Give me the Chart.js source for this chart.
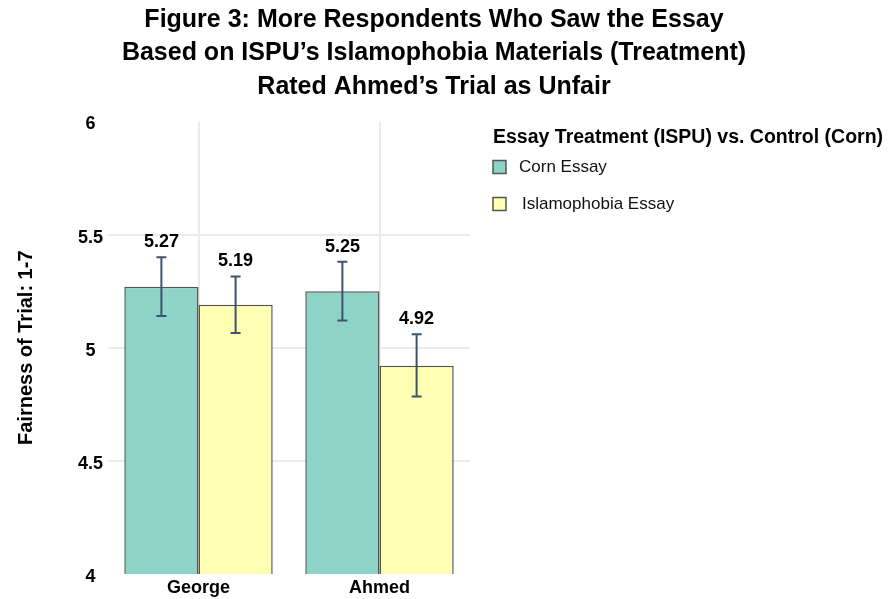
<!DOCTYPE html>
<html>
<head>
<meta charset="utf-8">
<script src="https://cdn.jsdelivr.net/npm/chart.js@4.4.1/dist/chart.umd.min.js"></script>
<style>
  html, body { margin: 0; padding: 0; background: #fff; }
  #wrap { width: 888px; height: 599px; }
</style>
</head>
<body>
<div id="wrap"><canvas id="myChart" width="888" height="599"></canvas></div>
<script>
// values
const categories = ['George', 'Ahmed'];
const seriesNames = ['Corn Essay', 'Islamophobia Essay'];
const cornMeans = [5.27, 5.25];
const islamMeans = [5.19, 4.92];
const cornLow = [5.14, 5.12];
const cornHigh = [5.40, 5.38];
const islamLow = [5.065, 4.785];
const islamHigh = [5.315, 5.06];
const yTicks = [4, 4.5, 5, 5.5, 6];
const titleLines = [
  'Figure 3: More Respondents Who Saw the Essay',
  'Based on ISPU\u2019s Islamophobia Materials (Treatment)',
  'Rated Ahmed\u2019s Trial as Unfair'
];
const legendTitle = 'Essay Treatment (ISPU) vs. Control (Corn)';
const yTitle = 'Fairness of Trial: 1-7';

const fillColors = ['#8dd3c7', '#ffffb3'];
const FONT = "'Liberation Sans', Arial, sans-serif";

const lows = [cornLow, islamLow];
const highs = [cornHigh, islamHigh];

// error bars, value labels and the legend
const extras = {
  id: 'extras',
  afterDatasetsDraw(chart) {
    const ctx = chart.ctx;
    const y = chart.scales.y;
    ctx.save();
    chart.data.datasets.forEach((ds, i) => {
      const meta = chart.getDatasetMeta(i);
      meta.data.forEach((bar, j) => {
        const top = y.getPixelForValue(highs[i][j]);
        const bot = y.getPixelForValue(lows[i][j]);
        ctx.strokeStyle = '#3d5170';
        ctx.lineWidth = 2;
        ctx.beginPath();
        ctx.moveTo(bar.x, top); ctx.lineTo(bar.x, bot);
        ctx.moveTo(bar.x - 5, top); ctx.lineTo(bar.x + 5, top);
        ctx.moveTo(bar.x - 5, bot); ctx.lineTo(bar.x + 5, bot);
        ctx.stroke();

        ctx.fillStyle = '#000';
        ctx.font = 'bold 18px ' + FONT;
        ctx.textAlign = 'center';
        ctx.textBaseline = 'middle';
        ctx.fillText(ds.data[j].toFixed(2), bar.x, top - 15);
      });
    });

    // legend
    const lx = chart.chartArea.right + 23;
    ctx.fillStyle = '#000';
    ctx.textAlign = 'left';
    ctx.textBaseline = 'middle';
    ctx.font = 'bold 19.5px ' + FONT;
    ctx.fillText(legendTitle, lx, 138);
    ctx.font = '17px ' + FONT;
    seriesNames.forEach((name, i) => {
      const cy = 167 + i * 37;
      ctx.fillStyle = fillColors[i];
      ctx.fillRect(lx, cy - 6.5, 13, 13);
      ctx.strokeStyle = '#555';
      ctx.lineWidth = 1.5;
      ctx.strokeRect(lx, cy - 6.5, 13, 13);
      ctx.fillStyle = '#111';
      ctx.fillText(name, lx + 26 + i * 3, cy);
    });
    ctx.restore();
  }
};

const data = {
  labels: categories,
  datasets: [
    {
      label: seriesNames[0],
      data: cornMeans,
      backgroundColor: fillColors[0],
      borderColor: '#555',
      borderWidth: 1.5,
      borderSkipped: false
    },
    {
      label: seriesNames[1],
      data: islamMeans,
      backgroundColor: fillColors[1],
      borderColor: '#555',
      borderWidth: 1.5,
      borderSkipped: false
    }
  ]
};

const gridColor = c => (c.tick && (c.tick.value === 6 || c.tick.value === 4)) ? 'rgba(0,0,0,0)' : '#ebebeb';

new Chart(document.getElementById('myChart'), {
  type: 'bar',
  data: data,
  options: {
    responsive: false,
    animation: false,
    events: [],
    layout: { padding: { top: 0, right: 20, bottom: 0, left: 0 } },
    datasets: { bar: { categoryPercentage: 0.82, barPercentage: 1.0 } },
    plugins: {
      legend: { display: false },
      tooltip: { enabled: false },
      title: {
        display: true,
        text: titleLines,
        color: '#000',
        font: { family: FONT, size: 25, weight: 'bold', lineHeight: 1.34 },
        padding: { top: 3, bottom: 18 }
      }
    },
    scales: {
      x: {
        offset: true,
        afterFit: s => { s.height = 25; },
        grid: { offset: false, color: '#ebebeb', lineWidth: 2, drawTicks: false },
        border: { display: false },
        ticks: { color: '#000', padding: 3, font: { family: FONT, size: 18, weight: 'bold' } }
      },
      y: {
        min: yTicks[0],
        max: yTicks[yTicks.length - 1],
        afterBuildTicks: s => { s.ticks = yTicks.map(v => ({ value: v })); },
        afterFit: s => { s.width = 108; },
        grid: { color: gridColor, lineWidth: 2, drawTicks: false },
        border: { display: false },
        ticks: {
          color: '#000',
          crossAlign: 'center',
          padding: 5,
          labelOffset: 3,
          callback: v => String(v),
          font: { family: FONT, size: 18, weight: 'bold' }
        },
        title: {
          display: true,
          text: yTitle,
          color: '#000',
          padding: { top: 14, bottom: 0 },
          font: { family: FONT, size: 20, weight: 'bold', lineHeight: 1.2 }
        }
      },
      legendSpace: {
        type: 'linear',
        position: 'right',
        afterFit: s => { s.width = 398; },
        grid: { display: false },
        border: { display: false },
        ticks: { display: false }
      }
    }
  },
  plugins: [extras]
});
</script>
</body>
</html>
